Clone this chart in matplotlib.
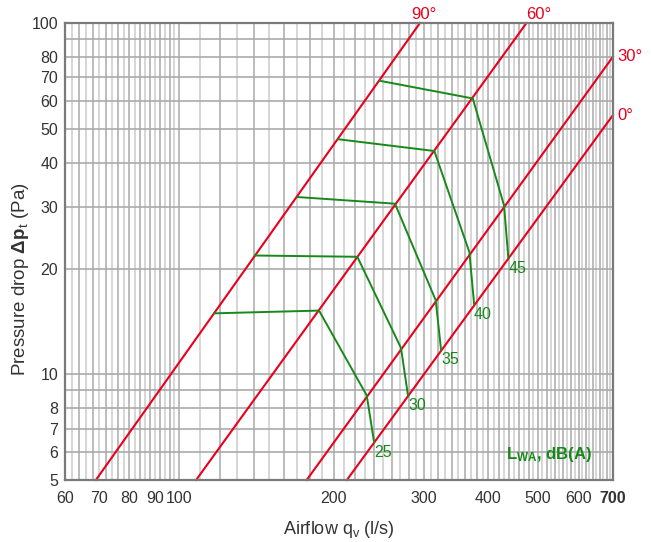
import numpy as np
import matplotlib
matplotlib.use("Agg")
import matplotlib.pyplot as plt

# === DATA ===
# red lines (damper angle): two end points each, airflow (l/s) / pressure (Pa)
angle_labels = ["90°", "60°", "30°", "0°"]
angle_q = [[68.9, 294.6], [108.0, 475.0], [177.3, 700.0], [212.3, 700.0]]
angle_p = [[5.0, 100.0], [5.0, 100.0], [5.0, 80.2], [5.0, 54.7]]

# green sound power lines, from the 90° line over 60° and 30° to the 0° line
lwa_levels = ["25", "30", "35", "40", "45"]
lwa_q = [
    [117.2, 187.4, 232.1, 239.8],
    [140.6, 222.5, 270.6, 279.2],
    [170.3, 263.4, 316.2, 323.8],
    [204.3, 314.2, 367.7, 375.5],
    [246.3, 373.3, 429.5, 437.8],
]
lwa_p = [
    [14.91, 15.18, 8.70, 6.41],
    [21.78, 21.60, 11.88, 8.70],
    [31.95, 30.59, 16.24, 11.75],
    [46.67, 43.21, 22.26, 15.86],
    [68.45, 60.98, 30.24, 21.45],
]

x_ticks = [60, 70, 80, 90, 100, 200, 300, 400, 500, 600, 700]
y_ticks = [5, 6, 7, 8, 10, 20, 30, 40, 50, 60, 70, 80, 100]

# === STYLE ===
plt.rcParams['font.family'] = ['Liberation Sans', 'DejaVu Sans']
plt.rcParams['mathtext.fontset'] = 'custom'
plt.rcParams['mathtext.rm'] = 'Liberation Sans'
plt.rcParams['mathtext.it'] = 'Liberation Sans:italic'
plt.rcParams['mathtext.bf'] = 'Liberation Sans:bold'

red = '#e8001c'
green = '#17891a'
text_col = '#333333'

fig = plt.figure(figsize=(6.51, 5.42), dpi=100)
ax = fig.add_axes([65 / 651, 62 / 542, 548 / 651, 457 / 542])
ax.set_xscale('log')
ax.set_yscale('log')
ax.set_xlim(60, 700)
ax.set_ylim(5, 100)

# grid
grid_x = list(range(60, 100, 2)) + list(range(100, 701, 10))
for i, v in enumerate(grid_x):
    c = '#b0b0b0' if i % 2 == 0 else '#cfcfcf'
    ax.axvline(v, color=c, lw=1.2, zorder=0)
grid_y = list(range(5, 10)) + list(range(10, 101, 10))
for v in grid_y:
    ax.axhline(v, color='#aaaaaa', lw=1.2, zorder=0)

# red angle lines
for lab, q, p in zip(angle_labels, angle_q, angle_p):
    ax.plot(q, p, color=red, lw=1.5, zorder=3, clip_on=False)
    if p[1] >= 100:
        off = (-6, 1) if lab == "90°" else (0, 1)
        ax.annotate(lab, (q[1], p[1]), xytext=off, textcoords='offset points',
                    ha='left', va='bottom', color=red, fontsize=12)
    else:
        ax.annotate(lab, (q[1], p[1]), xytext=(3, 0), textcoords='offset points',
                    ha='left', va='center', color=red, fontsize=12,
                    annotation_clip=False)

# green sound lines
for lab, q, p in zip(lwa_levels, lwa_q, lwa_p):
    ax.plot(q, p, color=green, lw=1.4, zorder=4)
    ax.annotate(lab, (q[-1], p[-1]), xytext=(0, -2), textcoords='offset points',
                ha='left', va='top', color=green, fontsize=11.5)

ax.text(433, 5.9, r'$\mathbf{L_{WA}}$, dB(A)', color=green, fontsize=12,
        fontweight='bold', ha='left', va='center')

# axes, ticks
ax.set_xticks(x_ticks)
ax.set_xticklabels([str(v) for v in x_ticks])
ax.set_yticks(y_ticks)
ax.set_yticklabels([str(v) for v in y_ticks])
ax.minorticks_off()
ax.tick_params(length=0, labelsize=11.5, labelcolor=text_col)
ax.tick_params(axis='x', pad=8)
ax.tick_params(axis='y', pad=5)
ax.get_xticklabels()[-1].set_fontweight('bold')
for s in ax.spines.values():
    s.set_color('#7a7a7a')
    s.set_linewidth(1.6)
    s.set_zorder(5)

ax.set_xlabel(r'Airflow q$_\mathrm{v}$ (l/s)', fontsize=13, color=text_col, labelpad=9)
ax.set_ylabel(r'Pressure drop $\mathbf{\Delta p}_\mathrm{t}$ (Pa)', fontsize=13.5,
              color=text_col)
ax.yaxis.set_label_coords(-0.062, 0.44)

fig.savefig('out.png', dpi=100)
